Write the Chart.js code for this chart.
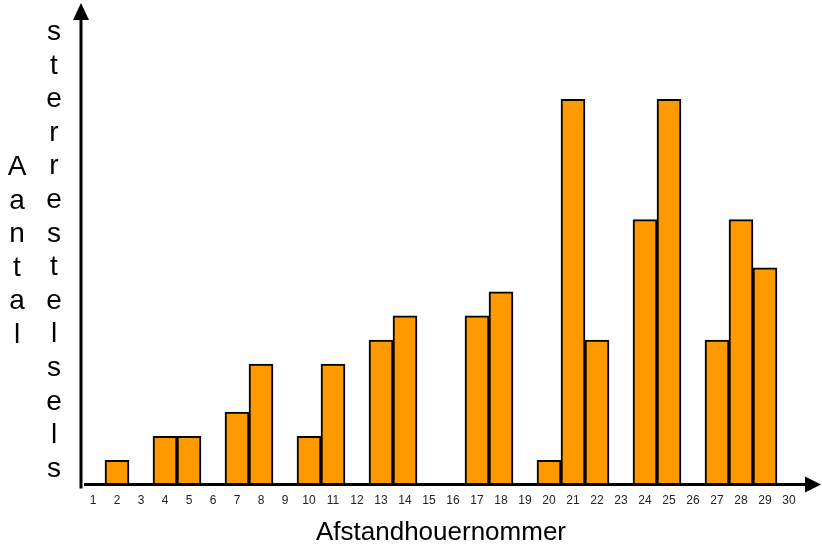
<!DOCTYPE html>
<html lang="af">
<head>
    <meta charset="UTF-8">
    <title>Aantal sterrestelsels</title>
    <script src="https://cdn.jsdelivr.net/npm/chart.js"></script>
    <style>
        html, body { margin: 0; padding: 0; background: #fff; }
        #wrap { width: 822px; height: 548px; position: relative; }
    </style>
</head>
<body>
<div id="wrap"><canvas id="chart"></canvas></div>
<script>
    // data
    const categories = ['1','2','3','4','5','6','7','8','9','10','11','12','13','14','15',
                        '16','17','18','19','20','21','22','23','24','25','26','27','28','29','30'];
    const counts = [0, 1, 0, 2, 2, 0, 3, 5, 0, 2, 5, 0, 6, 7, 0,
                    0, 7, 8, 0, 1, 16, 6, 0, 11, 16, 0, 6, 11, 9, 0];
    const xTitle = 'Afstandhouernommer';
    const yTitleWords = ['Aantal', 'sterrestelsels'];

    const FONT = "'Liberation Sans', Arial, sans-serif";

    // draws the two arrowed axes and the stacked-letter y title
    const axesPlugin = {
        id: 'axes',
        afterDatasetsDraw(chart) {
            const ctx = chart.ctx;
            const a = chart.chartArea;
            ctx.save();
            ctx.strokeStyle = '#000';
            ctx.fillStyle = '#000';
            ctx.lineWidth = 3;
            // y axis
            ctx.beginPath();
            ctx.moveTo(a.left, a.bottom + 4);
            ctx.lineTo(a.left, a.top + 14);
            ctx.stroke();
            ctx.beginPath();
            ctx.moveTo(a.left, a.top);
            ctx.lineTo(a.left - 8, a.top + 17);
            ctx.lineTo(a.left + 8, a.top + 17);
            ctx.closePath();
            ctx.fill();
            // x axis
            const xEnd = chart.width - 1;
            ctx.beginPath();
            ctx.moveTo(a.left + 3, a.bottom);
            ctx.lineTo(xEnd - 14, a.bottom);
            ctx.stroke();
            ctx.beginPath();
            ctx.moveTo(xEnd, a.bottom);
            ctx.lineTo(xEnd - 16, a.bottom - 8);
            ctx.lineTo(xEnd - 16, a.bottom + 8);
            ctx.closePath();
            ctx.fill();
            ctx.restore();
        },
        afterDraw(chart) {
            // y title: one letter per line, two columns
            const ctx = chart.ctx;
            ctx.save();
            ctx.font = '28px ' + FONT;
            ctx.fillStyle = '#000';
            ctx.textAlign = 'center';
            ctx.textBaseline = 'alphabetic';
            const step = 33.6;
            const cols = [17, 54];
            const firstBaseline = [175, 40];
            yTitleWords.forEach((word, c) => {
                word.split('').forEach((ch, i) => {
                    ctx.fillText(ch, cols[c], firstBaseline[c] + i * step);
                });
            });
            ctx.restore();
        }
    };

    new Chart(document.getElementById('chart'), {
        type: 'bar',
        data: {
            labels: categories,
            datasets: [{
                data: counts,
                backgroundColor: '#ff9900',
                borderColor: '#000',
                borderWidth: 2,
                barPercentage: 1,
                categoryPercentage: 1
            }]
        },
        options: {
            responsive: true,
            maintainAspectRatio: false,
            animation: false,
            layout: { padding: { left: 81, right: 21, top: 3, bottom: 0 } },
            plugins: {
                legend: { display: false },
                tooltip: { enabled: false }
            },
            scales: {
                x: {
                    grid: { display: false, drawTicks: false },
                    border: { display: false },
                    ticks: {
                        color: '#222',
                        font: { family: FONT, size: 12 },
                        padding: 9,
                        maxRotation: 0,
                        autoSkip: false
                    },
                    title: {
                        display: true,
                        text: xTitle,
                        color: '#000',
                        font: { family: FONT, size: 26 },
                        padding: { top: 0, bottom: 0 }
                    }
                },
                y: {
                    display: false,
                    min: 0,
                    max: 20
                }
            }
        },
        plugins: [axesPlugin]
    });
</script>
</body>
</html>
